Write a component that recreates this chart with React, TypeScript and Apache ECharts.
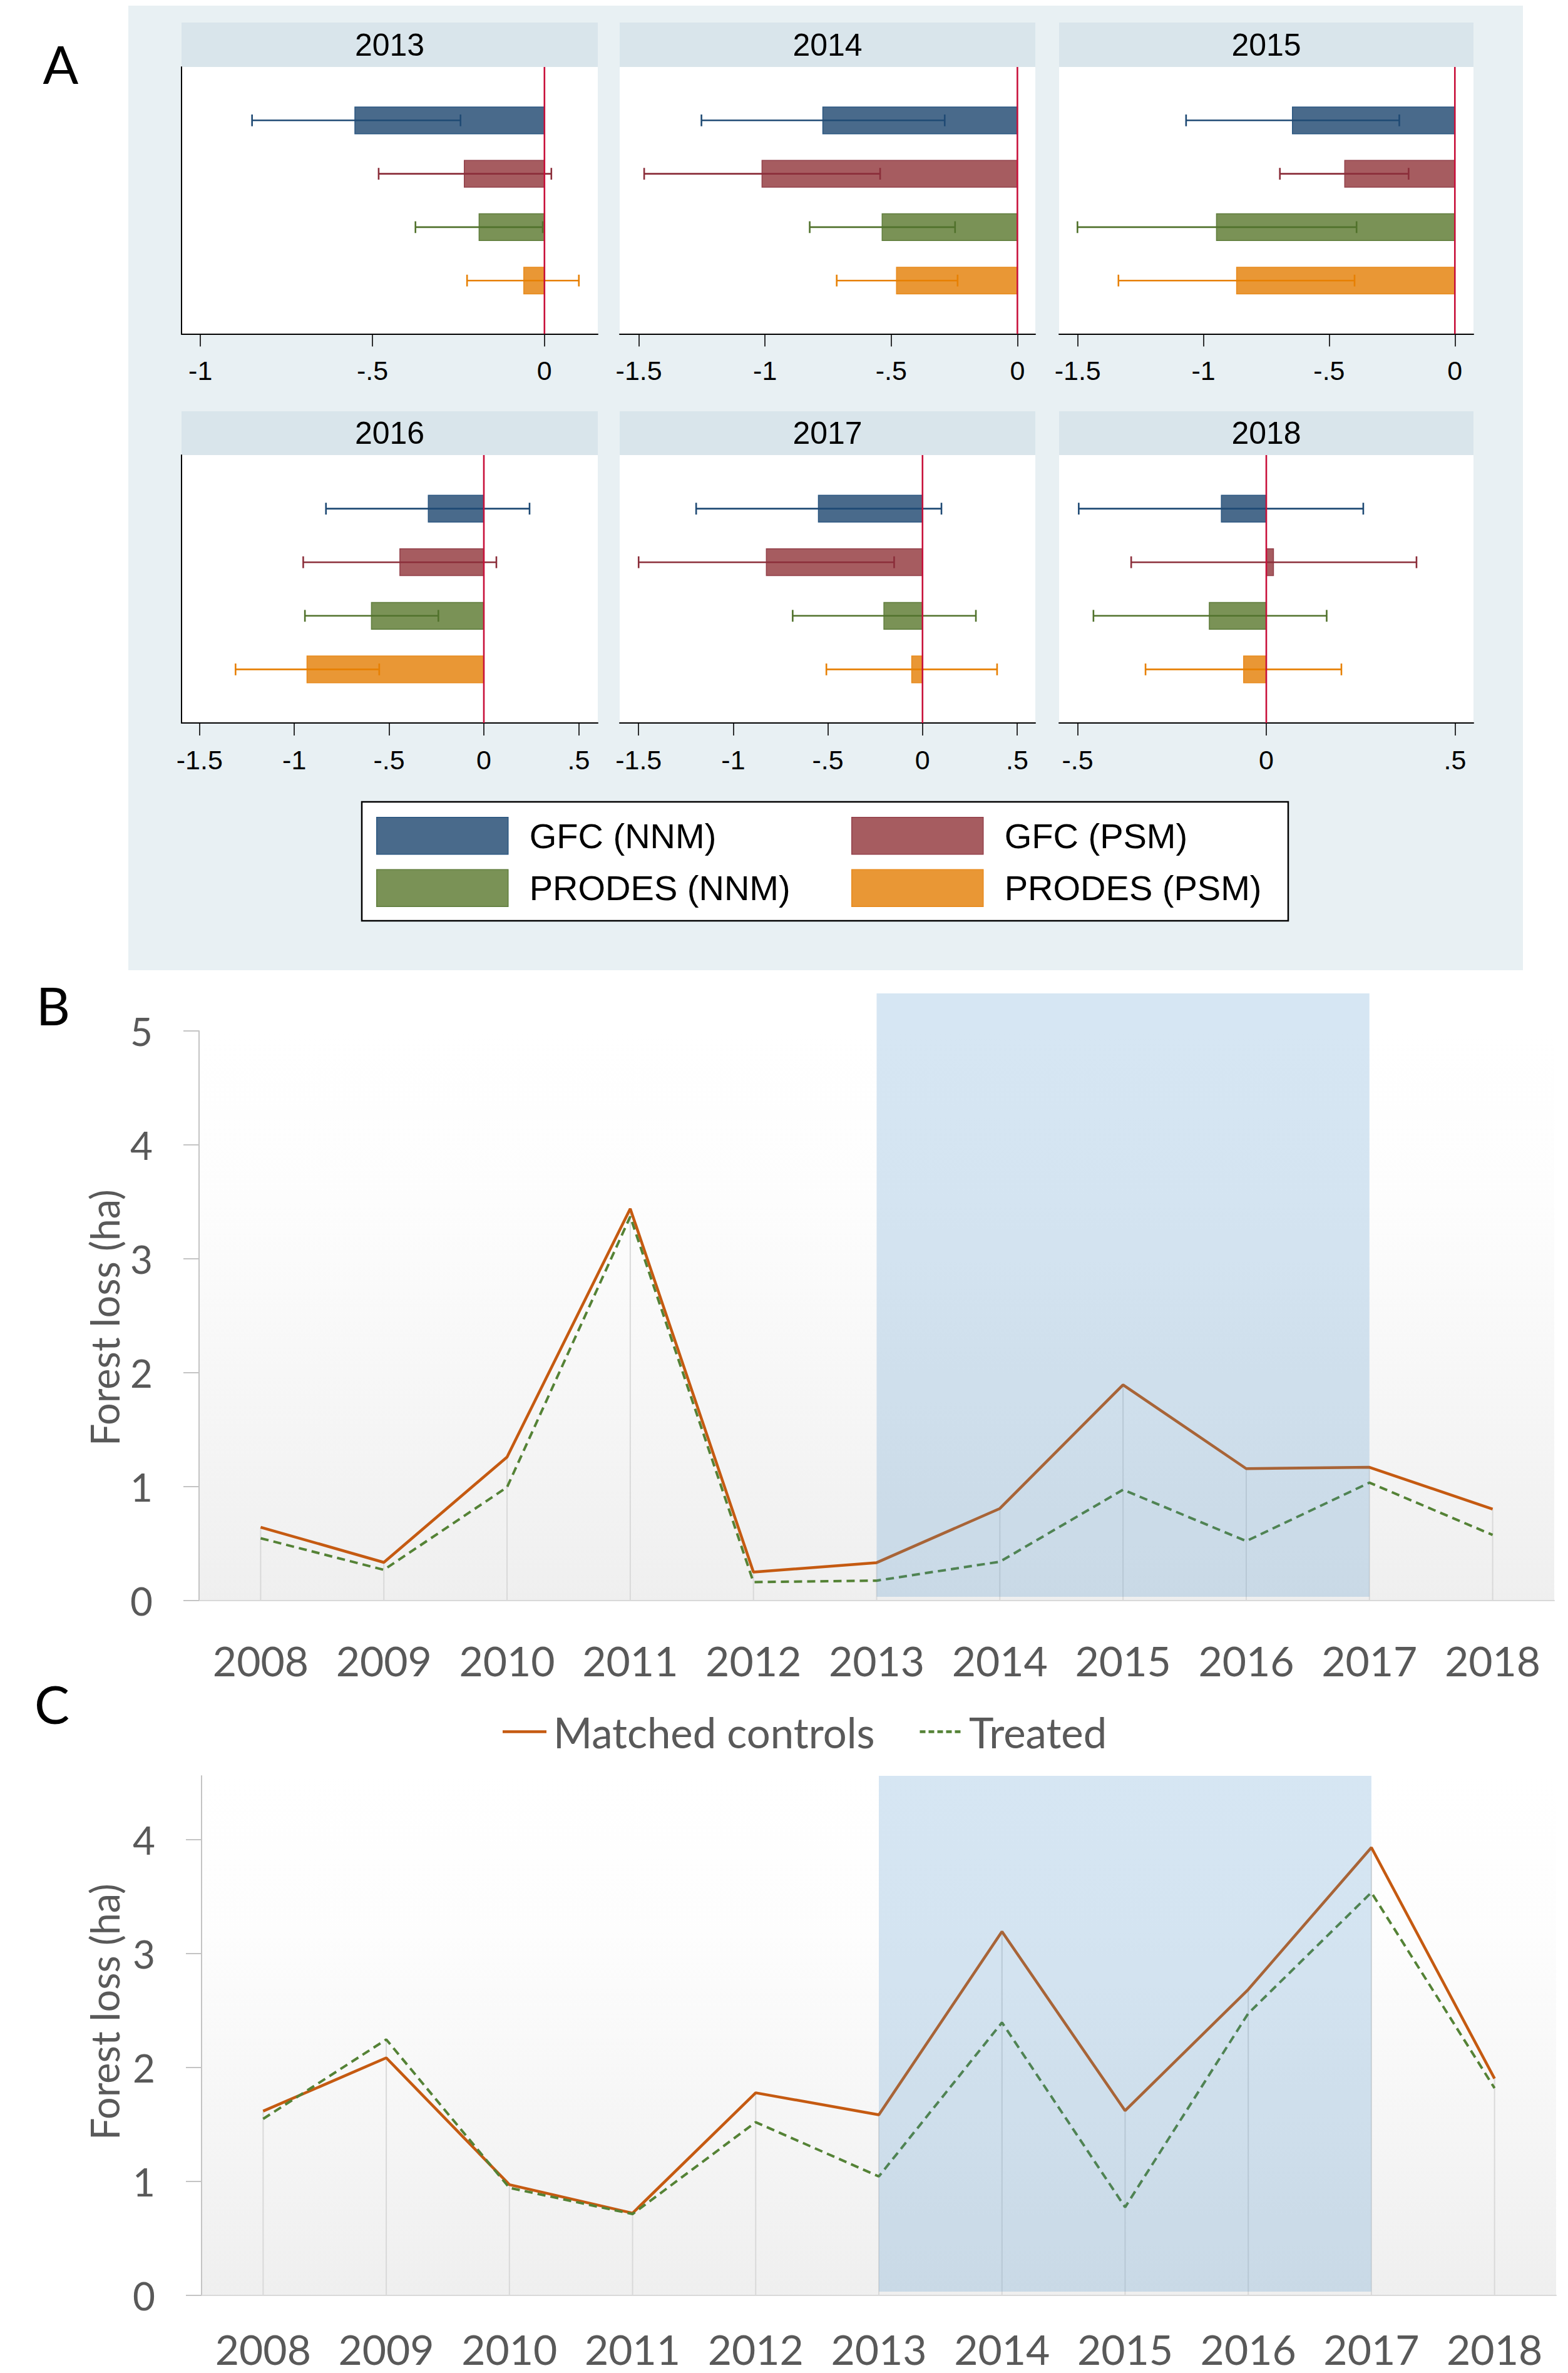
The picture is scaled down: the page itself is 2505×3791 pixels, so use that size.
import React, { useEffect, useRef } from 'react';
import * as echarts from 'echarts';

// ---------- Panel A data ----------
const panelYears = ['2013', '2014', '2015', '2016', '2017', '2018'];
const groupNames = ['GFC (NNM)', 'GFC (PSM)', 'PRODES (NNM)', 'PRODES (PSM)'];

const gfcNnmEst = [-0.551, -0.771, -0.646, -0.293, -0.55, -0.119];
const gfcNnmLo = [-0.85, -1.252, -1.069, -0.833, -1.196, -0.497];
const gfcNnmHi = [-0.244, -0.288, -0.221, 0.241, 0.1, 0.257];

const gfcPsmEst = [-0.233, -1.012, -0.438, -0.443, -0.825, 0.019];
const gfcPsmLo = [-0.482, -1.479, -0.696, -0.953, -1.5, -0.358];
const gfcPsmHi = [0.02, -0.544, -0.184, 0.066, -0.15, 0.398];

const prodesNnmEst = [-0.19, -0.536, -0.948, -0.593, -0.204, -0.151];
const prodesNnmLo = [-0.375, -0.823, -1.501, -0.944, -0.686, -0.458];
const prodesNnmHi = [-0.005, -0.247, -0.391, -0.24, 0.282, 0.16];

const prodesPsmEst = [-0.06, -0.479, -0.868, -0.933, -0.057, -0.06];
const prodesPsmLo = [-0.225, -0.716, -1.338, -1.31, -0.508, -0.32];
const prodesPsmHi = [0.1, -0.237, -0.399, -0.552, 0.394, 0.199];

const axisMin = [-1.055, -1.576, -1.574, -1.595, -1.6, -0.549];
const axisMax = [0.155, 0.071, 0.074, 0.601, 0.596, 0.549];
const axisTicks = [
  [-1, -0.5, 0],
  [-1.5, -1, -0.5, 0],
  [-1.5, -1, -0.5, 0],
  [-1.5, -1, -0.5, 0, 0.5],
  [-1.5, -1, -0.5, 0, 0.5],
  [-0.5, 0, 0.5],
];

// ---------- Panels B / C data ----------
const lineYears = ['2008', '2009', '2010', '2011', '2012', '2013', '2014', '2015', '2016', '2017', '2018'];
const bMatched = [0.644, 0.335, 1.26, 3.44, 0.25, 0.333, 0.808, 1.894, 1.158, 1.17, 0.803];
const bTreated = [0.547, 0.27, 0.995, 3.37, 0.162, 0.175, 0.341, 0.973, 0.522, 1.035, 0.576];
const cMatched = [1.617, 2.085, 0.972, 0.722, 1.778, 1.585, 3.193, 1.621, 2.685, 3.931, 1.903];
const cTreated = [1.549, 2.246, 0.944, 0.714, 1.52, 1.044, 2.395, 0.774, 2.475, 3.536, 1.819];
const bYTicks = [0, 1, 2, 3, 4, 5];
const cYTicks = [0, 1, 2, 3, 4];
const shadeStartYear = '2013';
const shadeEndYear = '2017';
const bShadeTop = 5.33;
const cShadeTop = 4.56;
const lineNames = ['Matched controls', 'Treated'];

// ---------- styles ----------
const estAll = [gfcNnmEst, gfcPsmEst, prodesNnmEst, prodesPsmEst];
const loAll = [gfcNnmLo, gfcPsmLo, prodesNnmLo, prodesPsmLo];
const hiAll = [gfcNnmHi, gfcPsmHi, prodesNnmHi, prodesPsmHi];
const fills = ['#496a8b', '#a65c60', '#7a9256', '#e99735'];
const edges = ['#2a5680', '#93404a', '#5f7d3c', '#e88a1c'];
const errColors = ['#1f4a74', '#8b2e3a', '#51722c', '#e78003'];
const zeroColor = '#c8103a';
const matchedColor = '#c55a11';
const treatedColor = '#548235';

const SANS = '"Liberation Sans", Arial, sans-serif';
const LATO = 'Lato, "Open Sans", sans-serif';

const colX = [[290, 955], [990, 1654], [1692, 2354]];
const rowY = [[107, 533.5], [727, 1155]];
const stripTop = [36, 657];

const fmtTick = (v: number) => {
  const s = String(Math.round(v * 100) / 100);
  return s.replace(/^(-?)0\./, '$1.');
};

export default function App() {
  const ref = useRef<HTMLDivElement>(null);

  useEffect(() => {
    document.body.style.margin = '0';
    const chart = echarts.init(ref.current!, undefined, { renderer: 'svg' });

    const grids: any[] = [];
    const xAxes: any[] = [];
    const yAxes: any[] = [];
    const series: any[] = [];
    const graphics: any[] = [];

    // panel A background
    graphics.push({ type: 'rect', shape: { x: 205, y: 9, width: 2228, height: 1541 }, style: { fill: '#e8f0f3' }, z: -10 });

    panelYears.forEach((yr, i) => {
      const c = i % 3;
      const r = Math.floor(i / 3);
      const left = colX[c][0];
      const w = colX[c][1] - colX[c][0];
      const top = rowY[r][0];
      const h = rowY[r][1] - rowY[r][0];
      grids.push({ left, top, width: w, height: h, show: true, backgroundColor: '#ffffff', borderWidth: 0, containLabel: false });
      graphics.push({ type: 'rect', shape: { x: left, y: stripTop[r], width: w, height: top - stripTop[r] }, style: { fill: '#d9e5eb' }, z: -5 });
      graphics.push({
        type: 'text', x: left + w / 2, y: (stripTop[r] + top) / 2,
        style: { text: yr, fill: '#000', font: `50px ${SANS}`, align: 'center', verticalAlign: 'middle' }, z: 5,
      });
      xAxes.push({
        type: 'value', gridIndex: i, min: axisMin[i], max: axisMax[i],
        axisLine: { show: true, onZero: false, lineStyle: { color: '#000', width: 2 } },
        axisTick: { show: true, length: 20, customValues: axisTicks[i], lineStyle: { color: '#000', width: 1.6 } },
        axisLabel: { customValues: axisTicks[i], formatter: fmtTick, fontSize: 43, fontFamily: SANS, color: '#000', margin: 37 },
        splitLine: { show: false },
      });
      yAxes.push({
        type: 'value', gridIndex: i, min: 0, max: 5, inverse: true,
        axisLine: { show: c === 0, onZero: false, lineStyle: { color: '#000', width: 2 } },
        axisTick: { show: false }, axisLabel: { show: false }, splitLine: { show: false },
      });
      groupNames.forEach((g, gi) => {
        series.push({
          type: 'custom', name: g, xAxisIndex: i, yAxisIndex: i, z: 3,
          itemStyle: { color: fills[gi] },
          encode: { x: [1, 2, 3], y: 0 },
          data: [[gi + 1, estAll[gi][i], loAll[gi][i], hiAll[gi][i]]],
          renderItem: (params: any, api: any) => {
            const y = api.value(0);
            const e = api.value(1);
            const lo = api.value(2);
            const hi = api.value(3);
            const p0 = api.coord([0, y]);
            const pe = api.coord([e, y]);
            const plo = api.coord([lo, y]);
            const phi = api.coord([hi, y]);
            const bh = Math.abs(api.size([0, 0.5])[1]);
            const ch = Math.abs(api.size([0, 0.22])[1]);
            const st = { stroke: errColors[gi], lineWidth: 2.6 };
            return {
              type: 'group',
              children: [
                { type: 'rect', shape: { x: Math.min(p0[0], pe[0]), y: p0[1] - bh / 2, width: Math.abs(pe[0] - p0[0]), height: bh }, style: { fill: fills[gi], stroke: edges[gi], lineWidth: 1.5 } },
                { type: 'line', shape: { x1: plo[0], y1: plo[1], x2: phi[0], y2: phi[1] }, style: st },
                { type: 'line', shape: { x1: plo[0], y1: plo[1] - ch / 2, x2: plo[0], y2: plo[1] + ch / 2 }, style: st },
                { type: 'line', shape: { x1: phi[0], y1: phi[1] - ch / 2, x2: phi[0], y2: phi[1] + ch / 2 }, style: st },
              ],
            };
          },
        });
      });
      series.push({
        type: 'custom', name: 'zero', xAxisIndex: i, yAxisIndex: i, z: 6,
        data: [[0, 0, 5]],
        renderItem: (params: any, api: any) => {
          const a = api.coord([api.value(0), api.value(1)]);
          const b = api.coord([api.value(0), api.value(2)]);
          return { type: 'line', shape: { x1: a[0], y1: a[1], x2: b[0], y2: b[1] }, style: { stroke: zeroColor, lineWidth: 2.6 } };
        },
      });
    });

    // legend box for panel A
    graphics.push({ type: 'rect', shape: { x: 578, y: 1281, width: 1480, height: 190 }, style: { fill: '#ffffff', stroke: '#000', lineWidth: 2.5 }, z: -4 });

    const legendItem = (gi: number) => ({
      name: groupNames[gi], icon: 'rect',
      itemStyle: { color: fills[gi], borderColor: edges[gi], borderWidth: 1.5 },
    });

    // ---------- B and C ----------
    const lineGrid = (idx: number, left: number, top: number, width: number, height: number, max: number, ticks: number[], labelMargin: number) => {
      grids.push({
        left, top, width, height, show: true, borderWidth: 0,
        backgroundColor: new echarts.graphic.LinearGradient(0, 0, 0, 1, [
          { offset: 0, color: '#ffffff' }, { offset: 0.3, color: '#fdfdfd' }, { offset: 1, color: '#efefef' },
        ]),
      });
      xAxes.push({
        type: 'category', gridIndex: idx, data: lineYears, boundaryGap: true,
        axisLine: { show: true, onZero: false, lineStyle: { color: '#d9d9d9', width: 2 } },
        axisTick: { show: false },
        axisLabel: { interval: 0, fontSize: 66, lineHeight: 66, fontFamily: LATO, color: '#595959', margin: labelMargin },
        splitLine: { show: false },
      });
      yAxes.push({
        type: 'value', gridIndex: idx, min: 0, max,
        axisLine: { show: true, onZero: false, lineStyle: { color: '#c4c4c4', width: 2 } },
        axisTick: { show: true, inside: false, length: 25, customValues: ticks, lineStyle: { color: '#c4c4c4', width: 2 } },
        axisLabel: { customValues: ticks, fontSize: 62, fontFamily: LATO, color: '#595959', margin: 74 },
        splitLine: { show: false },
      });
    };

    const addLines = (idx: number, matched: number[], treated: number[], shadeTop: number) => {
      series.push({
        type: 'custom', name: 'drop', xAxisIndex: idx, yAxisIndex: idx, z: 1,
        data: lineYears.map((_, i) => [i, Math.max(matched[i], treated[i])]),
        renderItem: (params: any, api: any) => {
          const a = api.coord([api.value(0), api.value(1)]);
          const b = api.coord([api.value(0), 0]);
          return { type: 'line', shape: { x1: a[0], y1: a[1], x2: b[0], y2: b[1] }, style: { stroke: '#d9d9d9', lineWidth: 2 } };
        },
      });
      series.push({
        type: 'line', name: lineNames[0], xAxisIndex: idx, yAxisIndex: idx, data: matched, symbol: 'none', z: 2,
        lineStyle: { color: matchedColor, width: 4.5 }, itemStyle: { color: matchedColor },
      });
      series.push({
        type: 'line', name: lineNames[1], xAxisIndex: idx, yAxisIndex: idx, data: treated, symbol: 'none', z: 2,
        lineStyle: { color: treatedColor, width: 4, type: [13, 8] }, itemStyle: { color: treatedColor },
      });
      series.push({
        type: 'custom', name: 'shade', xAxisIndex: idx, yAxisIndex: idx, z: 4, clip: false,
        data: [[lineYears.indexOf(shadeStartYear), lineYears.indexOf(shadeEndYear), shadeTop]],
        renderItem: (params: any, api: any) => {
          const a = api.coord([api.value(0), api.value(2)]);
          const b = api.coord([api.value(1), 0]);
          return { type: 'rect', shape: { x: a[0], y: a[1], width: b[0] - a[0], height: b[1] - 6 - a[1] }, style: { fill: 'rgba(60,135,198,0.21)' } };
        },
      });
    };

    lineGrid(6, 318, 1647, 2165, 910, 5, bYTicks, 62);
    addLines(6, bMatched, bTreated, bShadeTop);
    lineGrid(7, 322, 2837, 2164, 830, 4.56, cYTicks, 52);
    addLines(7, cMatched, cTreated, cShadeTop);

    // y-axis titles
    [[166, 2105], [166, 3214]].forEach(([x, y]) => {
      graphics.push({
        type: 'text', x, y, rotation: Math.PI / 2,
        style: { text: 'Forest loss (ha)', fill: '#595959', font: `63px ${LATO}`, align: 'center', verticalAlign: 'middle' },
      });
    });

    // panel letters
    [['A', 97, 101], ['B', 85, 1605], ['C', 83, 2721]].forEach(([t, x, y]) => {
      graphics.push({
        type: 'text', x, y,
        style: { text: t, fill: '#000', font: `84px ${LATO}`, align: 'center', verticalAlign: 'middle' }, z: 10,
      });
    });

    const solidIcon = 'path://M0,0H70V4.5H0Z';
    const dashIcon = 'path://M0,0H9V4.5H0Z M14,0H23V4.5H14Z M28,0H37V4.5H28Z M42,0H51V4.5H42Z M56,0H65V4.5H56Z';

    const option: any = {
      animation: false,
      backgroundColor: '#ffffff',
      textStyle: { fontFamily: SANS },
      grid: grids,
      xAxis: xAxes,
      yAxis: yAxes,
      legend: [
        {
          orient: 'vertical', left: 601, top: 1305, padding: 0, itemGap: 23, itemWidth: 210, itemHeight: 59,
          selectedMode: false, data: [legendItem(0), legendItem(2)],
          textStyle: { fontSize: 56, fontFamily: SANS, color: '#000', padding: [0, 0, 0, 29] },
        },
        {
          orient: 'vertical', left: 1360, top: 1305, padding: 0, itemGap: 23, itemWidth: 210, itemHeight: 59,
          selectedMode: false, data: [legendItem(1), legendItem(3)],
          textStyle: { fontSize: 56, fontFamily: SANS, color: '#000', padding: [0, 0, 0, 29] },
        },
        {
          orient: 'horizontal', left: 803, top: 2733, padding: 0, itemGap: 72, itemWidth: 70, itemHeight: 4.5,
          selectedMode: false,
          data: [
            { name: lineNames[0], icon: solidIcon, itemStyle: { color: matchedColor } },
            { name: lineNames[1], icon: dashIcon, itemStyle: { color: treatedColor } },
          ],
          textStyle: { fontSize: 67, fontFamily: LATO, color: '#595959', padding: [0, 0, 0, 6] },
        },
      ],
      graphic: graphics,
      series,
    };

    chart.setOption(option);
    return () => chart.dispose();
  }, []);

  return <div ref={ref} style={{ position: 'absolute', left: 0, top: 0, width: 2505, height: 3791 }} />;
}
